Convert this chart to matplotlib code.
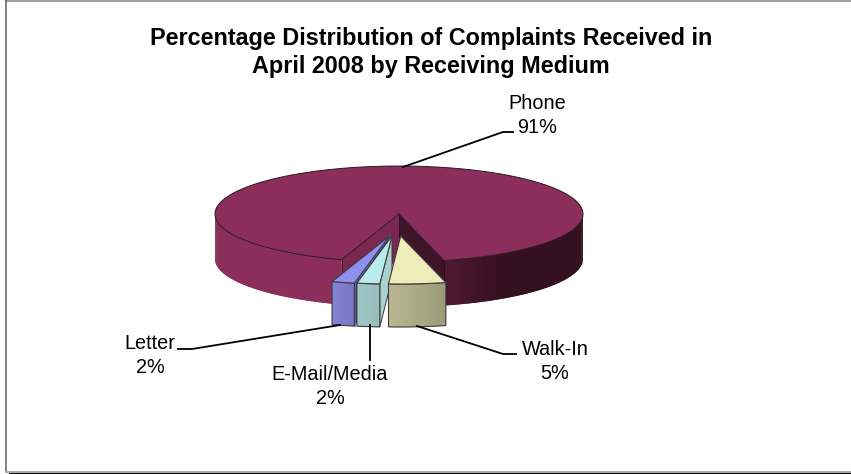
import numpy as np
import matplotlib
matplotlib.use("Agg")
import matplotlib.pyplot as plt

plt.rcParams['font.family'] = ['Liberation Sans', 'DejaVu Sans']

# share of complaints, in drawing order going round the pie
labels = ["Phone", "Letter", "E-Mail/Media", "Walk-In"]
shares = [91, 2, 2, 5]

title_lines = "Percentage Distribution of Complaints Received in\nApril 2008 by Receiving Medium"

# pie geometry, pixels
cx, cy = 399, 214
rx, ry = 184, 48
depth = 45
slice_depth = 43
start = 14.2  # angle of the phone slice's first edge, 0 is the front of the pie

# how far each slice is pulled out of the pie
pull_x = [0, -9.5, -7, 1.7]
pull_y = [0, 22, 22, 22]

top_cols = ["#8c2e5c", "#8f8ff0", "#b9ecea", "#eeecb9"]
front_l = ["#8c2e5c", "#8484d6", "#9fc8c8", "#bbb892"]
front_r = ["#3a1226", "#7876c2", "#97bdbd", "#9b9b78"]
edge = "#3c3c3c"


def mix(a, b, f):
    a = np.array(matplotlib.colors.to_rgb(a))
    b = np.array(matplotlib.colors.to_rgb(b))
    return tuple(a + (b - a) * f)


def pt(t, x0=cx, y0=cy):
    t = np.radians(t)
    return x0 + rx * np.sin(t), y0 + ry * np.cos(t)


def arc(t1, t2, x0=cx, y0=cy, n=80):
    ts = np.linspace(t1, t2, n)
    return [pt(t, x0, y0) for t in ts]


def phone_wall_col(t):
    # outer wall shading, lit from the left
    if t < 0:
        return mix("#7c2a52", "#8c2e5c", min(1, (t + 90) / 20))
    return mix("#5e1f3f", "#35101f", min(1, t / 35))


def wall(t1, t2, colfunc, x0=cx, y0=cy, h=depth, z=2.0, n=90):
    # each strip runs on under the next one so no seams show between them
    ts = np.linspace(t1, t2, n)
    for k in range(n - 1):
        a, b = ts[k], ts[min(k + 2, n - 1)]
        p1, p2 = pt(a, x0, y0), pt(b, x0, y0)
        ax.fill([p1[0], p2[0], p2[0], p1[0]],
                [p1[1], p2[1], p2[1] + h, p1[1] + h],
                color=colfunc((ts[k] + ts[k + 1]) / 2), lw=0, zorder=z)


fig = plt.figure(figsize=(8.51, 4.74), dpi=100)
ax = fig.add_axes([0, 0, 1, 1])
ax.set_xlim(0, 851)
ax.set_ylim(474, 0)
ax.axis("off")

# frame round the chart
ax.plot([5.5, 851], [0.8, 0.8], color="#a0a0a0", lw=1.5, zorder=1)
ax.plot([5.5, 5.5], [0, 471], color="#606060", lw=1.1, zorder=1)
ax.plot([5.5, 851], [471.5, 471.5], color="#a0a0a0", lw=1.3, zorder=1)
ax.plot([10, 851], [473.6, 473.6], color="black", lw=1.4, zorder=1, clip_on=False)

ax.text(431, 52.5, title_lines, ha="center", va="center", fontsize=16.85,
        fontweight="bold", linespacing=1.25, color="black")

# slice edges, going round from the phone slice
spans = [s * 3.6 for s in shares]
t_a = start                # phone starts here and wraps round the back
t_b = start + spans[0]
gap_left = t_b - 360

# outer wall of the large slice, either side of the notch
wall(-90, gap_left, phone_wall_col)
wall(start, 90, phone_wall_col)

# notch walls
lx, ly = pt(gap_left)
rx_, ry_ = pt(start)
ax.fill([cx, lx, lx, cx], [cy, ly, ly + depth, cy + depth], color="#7a2850", lw=0, zorder=3)
ax.fill([cx, rx_, rx_, cx], [cy, ry_, ry_ + depth, cy + depth], color="#3e1428", lw=0, zorder=3)

# top of the large slice
top = [(cx, cy)] + arc(t_a, t_b, n=300) + [(cx, cy)]
ax.fill(*zip(*top), color=top_cols[0], lw=0, zorder=4)
ax.plot(*zip(*top), color="#2a1a22", lw=0.7, zorder=5)
ax.plot([cx, cx], [cy, cy + depth], color="#2a0c1c", lw=0.5, zorder=4)
ax.plot([lx, lx], [ly, ly + depth], color="#3a1226", lw=0.6, zorder=4)
ax.plot([rx_, rx_], [ry_, ry_ + depth], color="#1e0812", lw=0.6, zorder=4)

# pulled-out slices, back to front
ends = [gap_left]
for s in spans[1:]:
    ends.append(ends[-1] + s)

for i in [1, 2, 3]:
    t1, t2 = ends[i - 1], ends[i]
    x0, y0 = cx + pull_x[i], cy + pull_y[i]
    z = 6 + i * 2

    # walk-in side face points away from the viewer
    if i < 3:
        px, py = pt(t2, x0, y0)
        if i == 1:
            # dark inner part and a lighter rim along the letter slice
            ax.fill([x0, px, px, x0], [y0, py, py + slice_depth, y0 + slice_depth],
                    color="#3d0f5c", lw=0, zorder=z)
            ax.plot([px + 0.8, x0], [py, y0], color="#6a6ac8", lw=1.4, zorder=z)
            ax.plot([px + 0.6, px + 0.6], [py, py + slice_depth], color="#6a6ac0", lw=1.2, zorder=z)
        else:
            ax.fill([x0, px, px, x0], [y0, py, py + slice_depth, y0 + slice_depth],
                    color="#a9d2ce", edgecolor=edge, lw=0.7, zorder=z)

    front = lambda t, i=i, t1=t1, t2=t2: mix(front_l[i], front_r[i], (t - t1) / (t2 - t1))
    wall(t1, t2, front, x0, y0, slice_depth, z + 0.1, n=30)
    rim = arc(t1, t2, x0, y0, n=30)
    outline = rim + [(p[0], p[1] + slice_depth) for p in rim[::-1]] + [rim[0]]
    ax.plot(*zip(*outline), color=edge, lw=0.8, zorder=z + 0.2)

    wedge = [(x0, y0)] + rim + [(x0, y0)]
    ax.fill(*zip(*wedge), color=top_cols[i], lw=0, zorder=z + 0.3)
    ax.plot(*zip(*wedge), color=edge, lw=0.8, zorder=z + 0.4)

# leader lines
ax.plot([403, 503, 513], [167, 132, 132], color="black", lw=1.3, zorder=20)
ax.plot([178, 192, 340], [349, 349, 325], color="black", lw=1.3, zorder=20)
ax.plot([370, 370], [325, 360], color="black", lw=1.3, zorder=20)
ax.plot([417, 503, 516], [326, 354, 354], color="black", lw=1.3, zorder=20)

# slice labels
label_pos = [(537, 115.5), (150, 355.5), (330, 386.5), (555, 361.5)]
for name, s, (x, y) in zip(labels, shares, label_pos):
    ax.text(x, y, f"{name}\n{s}%", ha="center", va="center", fontsize=14.3,
            linespacing=1.38, color="black", zorder=21)

fig.savefig("out.png", dpi=100)
